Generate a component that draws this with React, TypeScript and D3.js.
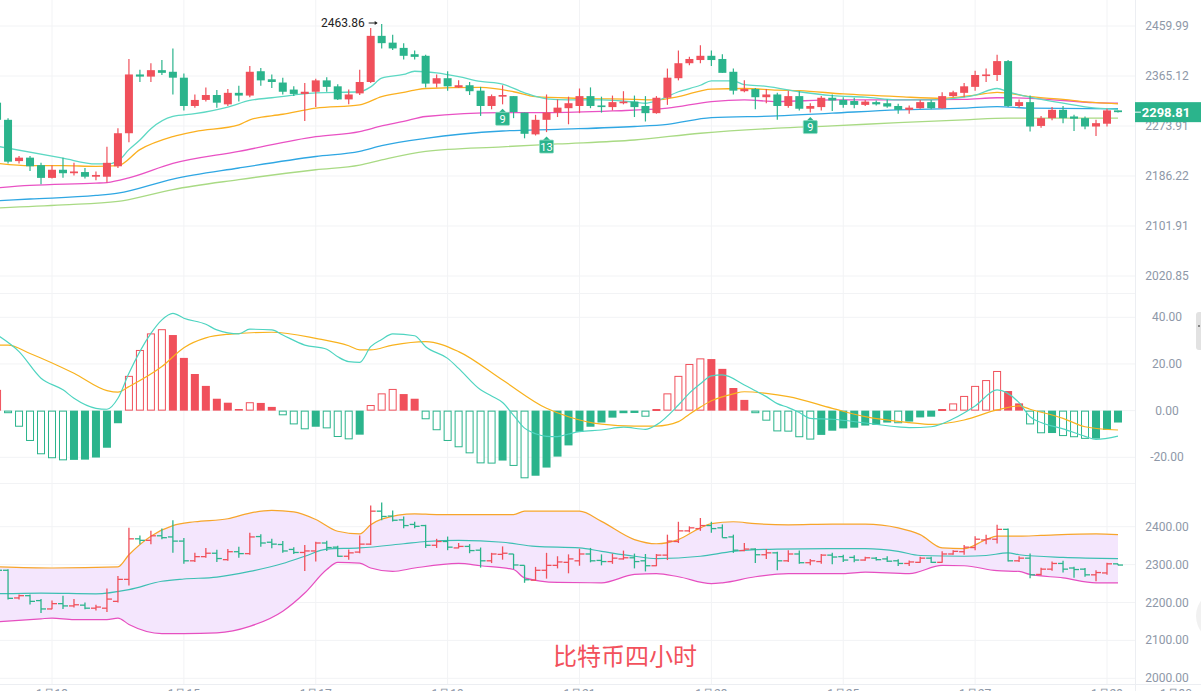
import React, { useEffect } from 'react';
import * as d3 from 'd3';

const W = 1201;
const H = 691;

// ---- candle data (index 0..102, 4h candles) ----
const opens = [2316,2285,2212,2218,2205,2183,2197,2191,2193,2185,2185,2203,2261,2368,2364,2376,2373,2362,2310,2321,2330,2313,2334,2329,2374,2359,2353,2340,2332,2336,2357,2346,2322,2333,2354,2441,2428,2418,2406,2403,2351,2361,2344,2348,2338,2310,2327,2328,2298,2259,2285,2298,2306,2310,2328,2311,2308,2315,2318,2310,2297,2325,2361,2389,2395,2403,2397,2373,2337,2341,2326,2331,2310,2328,2305,2308,2325,2321,2319,2312,2317,2315,2310,2303,2306,2317,2306,2328,2334,2345,2365,2367,2393,2310,2317,2274,2288,2303,2291,2288,2273,2278,2302];
const highs = [2322,2288,2221,2221,2209,2205,2218,2209,2200,2194,2237,2270,2397,2377,2389,2395,2417,2370,2331,2344,2339,2341,2347,2384,2380,2368,2362,2346,2352,2360,2363,2350,2340,2377,2456,2463.86,2443,2427,2413,2405,2368,2374,2357,2354,2345,2331,2348,2328,2298,2294,2331,2322,2327,2342,2344,2327,2329,2337,2329,2328,2328,2379,2413,2401,2423,2413,2406,2379,2357,2343,2341,2334,2338,2337,2315,2328,2331,2326,2325,2321,2320,2322,2314,2311,2321,2321,2335,2338,2352,2375,2379,2405,2395,2322,2329,2292,2308,2310,2294,2291,2285,2305,2302];
const lows = [2283,2208,2208,2195,2172,2182,2183,2187,2182,2179,2175,2200,2245,2354,2354,2367,2331,2302,2307,2318,2307,2310,2318,2326,2347,2343,2331,2328,2283,2308,2336,2321,2313,2330,2352,2417,2414,2396,2396,2344,2344,2338,2343,2330,2292,2304,2313,2288,2252,2257,2263,2290,2277,2297,2306,2298,2302,2313,2290,2282,2296,2312,2357,2385,2389,2384,2371,2331,2335,2304,2315,2285,2307,2302,2298,2302,2301,2307,2306,2310,2311,2307,2296,2296,2305,2304,2305,2326,2326,2338,2354,2356,2308,2307,2264,2271,2284,2279,2265,2268,2256,2273,2298];
const closes = [2285,2211,2218,2203,2183,2197,2191,2194,2185,2188,2209,2261,2368,2364,2376,2371,2362,2310,2321,2330,2316,2334,2329,2373,2357,2354,2336,2332,2336,2357,2345,2322,2331,2354,2441,2427,2417,2403,2401,2351,2361,2346,2348,2337,2310,2328,2330,2299,2260,2285,2298,2307,2315,2328,2310,2308,2317,2318,2308,2297,2325,2362,2389,2397,2403,2395,2371,2338,2341,2326,2331,2310,2328,2305,2310,2325,2320,2312,2312,2318,2313,2309,2303,2307,2317,2306,2328,2335,2346,2367,2368,2393,2310,2317,2273,2288,2303,2288,2287,2273,2279,2302,2298.81];

// ---- moving averages on main panel: [candle index, value] ----
const maCyan = [[0,2238],[6,2217],[9,2207],[10,2207],[11,2212],[12,2232],[13,2249],[14,2269],[16,2291],[18,2296],[21,2308],[23,2320],[25,2325],[27,2330],[29,2334],[33,2336],[34,2345],[35,2361],[37,2368],[38,2374],[40,2371],[42,2364],[44,2355],[46,2350],[48,2334],[50,2323],[52,2321],[55,2321],[58,2317],[59,2315],[60,2319],[62,2336],[64,2348],[65,2356],[67,2356],[68,2349],[70,2346],[73,2336],[76,2329],[79,2326],[82,2321],[85,2321],[88,2326],[89,2330],[91,2342],[92,2336],[94,2326],[97,2315],[100,2306],[102,2304]];
const maOrange = [[0,2208],[3,2204],[6,2204],[9,2203],[11,2204],[13,2232],[16,2255],[18,2264],[22,2276],[23,2285],[26,2295],[29,2306],[33,2312],[35,2327],[37,2335],[38,2339],[39,2342],[44,2344],[47,2336],[49,2327],[53,2324],[58,2322],[60,2321],[62,2327],[65,2341],[68,2342],[71,2339],[73,2338],[77,2332],[82,2327],[86,2324],[89,2330],[91,2335],[94,2327],[97,2322],[100,2316],[102,2314]];
const maPink = [[0,2166],[3,2170],[9,2174],[10,2175],[12,2183],[16,2208],[22,2229],[29,2255],[33,2264],[35,2274],[37,2282],[39,2291],[46,2298],[50,2298],[56,2301],[61,2306],[65,2318],[68,2321],[71,2318],[76,2321],[82,2321],[88,2322],[91,2325],[94,2324],[100,2316],[102,2315]];
const maBlue = [[0,2144],[3,2147],[9,2153],[11,2157],[16,2181],[22,2200],[29,2220],[33,2229],[35,2239],[39,2252],[46,2265],[51,2268],[58,2273],[61,2277],[65,2289],[71,2292],[76,2297],[82,2303],[88,2306],[91,2309],[94,2306],[102,2305]];
const maGreen = [[0,2132],[6,2137],[11,2143],[12,2146],[16,2163],[22,2180],[29,2197],[33,2205],[35,2214],[39,2229],[46,2237],[51,2242],[58,2249],[64,2261],[71,2270],[76,2274],[82,2280],[88,2285],[92,2288],[102,2288]];

// ---- MACD ----
const macdHist = [8.9,-1.1,-6.9,-13,-18.7,-20.4,-21.3,-21.1,-21.0,-20.1,-15.9,-5.4,14.9,26,33.1,34.9,32.4,22.6,15.7,10.6,5.1,3.4,0.7,3.6,3.3,1.6,-2.0,-5.9,-8,-6.9,-7.6,-11.3,-12.3,-10.3,2.4,7.4,9.3,7.1,5.1,-3.7,-8.4,-13,-15.7,-18.3,-22.6,-22.7,-21.4,-23.7,-29,-27.9,-24.4,-19.7,-14.9,-9.1,-6.9,-5.1,-3,-1.1,-1.0,-2.6,0.7,7.4,14.9,20,22.4,22.1,17.9,9.7,4.6,-1.1,-4.3,-8.9,-9.0,-11.4,-12.4,-10.4,-8.6,-7.6,-7.3,-6.4,-6.1,-5.1,-5.4,-4.7,-2.9,-2.6,0.7,3.1,6.3,10.6,13.1,17,8.4,3.1,-5.9,-9.7,-9.6,-10.9,-11.4,-12.1,-12,-8.3,-5.1];
const macdDif = [[0,32.5],[2,25.3],[4,13.9],[6,8.9],[7,5.3],[9,1.0],[10,0.6],[11,5.3],[12,16],[14,33.1],[15,38.9],[16,41.7],[17,39.6],[19,37],[20,34.6],[22,32.9],[23,34.9],[25,34.6],[26,32.4],[28,28.1],[30,26.3],[31,23.1],[32,21],[33,20.7],[34,27.4],[35,30.5],[36,32.9],[38,32.1],[39,27.4],[41,22.4],[42,18.1],[44,8.9],[45,6.3],[46,3.5],[47,-2],[48,-7.5],[49,-9.9],[50,-11],[51,-11.1],[52,-10],[53,-9],[55,-8.3],[57,-7.1],[59,-8],[60,-6.1],[62,2.4],[63,7.5],[64,11.5],[65,14.9],[66,15.3],[68,11],[69,8.5],[70,6],[71,3],[72,1.3],[73,-0.8],[74,-3.3],[76,-3.7],[79,-5.3],[82,-7],[83,-7.3],[85,-6.9],[87,-3.5],[89,2],[91,8.9],[93,3.4],[94,-2.6],[95,-5.1],[97,-7.8],[99,-11],[100,-12.3],[102,-10.9]];
const macdDea = [[0,28.1],[1,28.1],[3,24.5],[7,16],[10,8.6],[11,7.9],[12,10.3],[15,18.9],[17,27],[19,31.2],[21,32.7],[25,33.6],[29,31],[32,27.8],[33,26],[34,26],[36,28.1],[39,29.6],[42,25.3],[46,13.1],[50,1],[52,-2.6],[55,-5.8],[58,-6.6],[60,-6.6],[62,-4.7],[63,-1.5],[64,1.5],[65,4.2],[67,7.2],[68,8.1],[70,7.4],[72,6],[76,1],[79,-2.6],[83,-5.1],[85,-5.9],[88,-4],[91,0.3],[93,2],[94,0.6],[97,-3.3],[99,-6.9],[102,-8.3]];

// ---- Bollinger ----
const bollUpper = [[0,2294],[5,2291],[11,2294],[12,2326],[14,2375],[16,2403],[18,2413],[21,2421],[23,2436],[25,2443],[27,2439],[29,2419],[31,2388],[33,2381],[34,2405],[35,2420],[38,2434],[40,2432],[47,2432],[48,2441],[53,2441],[55,2414],[58,2366],[60,2355],[62,2366],[64,2397],[65,2408],[67,2413],[69,2408],[72,2405],[76,2407],[79,2407],[82,2397],[84,2379],[86,2344],[88,2342],[90,2366],[91,2375],[93,2375],[95,2377],[100,2381],[102,2379]];
const bollMid = [[0,2223],[4,2225],[9,2223],[12,2234],[15,2256],[17,2262],[20,2267],[23,2282],[26,2303],[28,2322],[30,2341],[33,2344],[37,2355],[39,2361],[42,2364],[46,2359],[49,2348],[53,2344],[55,2335],[58,2322],[60,2316],[64,2322],[67,2335],[71,2341],[76,2342],[79,2342],[82,2335],[84,2324],[88,2322],[90,2324],[92,2331],[93,2326],[97,2319],[102,2316]];
const bollLower = [[0,2149],[4,2157],[5,2159],[7,2155],[10,2155],[11,2159],[12,2142],[15,2118],[17,2118],[20,2120],[23,2137],[26,2177],[28,2225],[30,2287],[31,2306],[33,2304],[34,2291],[36,2282],[38,2291],[42,2303],[44,2297],[47,2287],[48,2265],[51,2253],[55,2252],[58,2274],[60,2276],[62,2268],[65,2250],[66,2252],[69,2268],[72,2276],[77,2276],[79,2280],[83,2276],[86,2298],[88,2297],[91,2284],[93,2282],[94,2274],[97,2265],[100,2252],[102,2252]];

// ---- ticks / labels ----
const mainTicks = [2459.99, 2365.12, 2273.91, 2186.22, 2101.91, 2020.85];
const macdTicks = [40, 20, 0, -20];
const bollTicks = [2400, 2300, 2200, 2100, 2000];
const dateTickIdx = [5, 17, 29, 41, 53, 65, 77, 89, 101];
const dateLabels = ['1月13', '1月15', '1月17', '1月19', '1月21', '1月23', '1月25', '1月27', '1月29'];
const markerIdx = [46, 50, 74];
const markerLabels = ['9', '13', '9'];
const highIdx = 35;
const lastPrice = 2298.81;
const title = '比特币四小时';

const RED = '#f0505b';
const GREEN = '#2bb48c';
const GRID = '#f2f3f5';
const AXIS_TXT = '#8e98a8';

export default function App() {
  useEffect(() => {
    document.body.style.margin = '0';
  }, []);

  const x = d3.scaleLinear().domain([5, 101]).range([52, 1107]);
  const yMain = d3.scaleLog().domain([2020.85, 2459.99]).range([276, 26]);
  const yMacd = d3.scaleLinear().domain([-20, 40]).range([457.3, 317.3]);
  const yBoll = d3.scaleLinear().domain([2000, 2400]).range([678.3, 526.7]);

  const mainLine = d3.line<number[]>().x(d => x(d[0])).y(d => yMain(d[1])).curve(d3.curveMonotoneX);
  const macdLine = d3.line<number[]>().x(d => x(d[0])).y(d => yMacd(d[1])).curve(d3.curveMonotoneX);
  const bollLine = d3.line<number[]>().x(d => x(d[0])).y(d => yBoll(d[1])).curve(d3.curveMonotoneX);

  const upperPath = bollLine(bollUpper) || '';
  const lowerRev = (bollLine([...bollLower].reverse()) || '').replace(/^M/, 'L');
  const bandPath = upperPath + lowerRev + 'Z';

  const candles = opens.map((o, i) => ({ i, o, h: highs[i], l: lows[i], c: closes[i] }));
  const zeroY = yMacd(0);

  const hx = x(highIdx);
  const hy = yMain(highs[highIdx]);

  return (
    <svg width={W} height={H} style={{ position: 'absolute', left: 0, top: 0, background: '#fff', display: 'block' }}
      fontFamily="Roboto, 'Noto Sans', sans-serif">
      <defs>
        <clipPath id="plot"><rect x={0} y={0} width={1135} height={H} /></clipPath>
      </defs>
      <rect x={0} y={0} width={W} height={H} fill="#fff" />

      {/* grid */}
      {dateTickIdx.map(i => (
        <line key={'vg' + i} x1={x(i)} x2={x(i)} y1={0} y2={684} stroke={GRID} strokeWidth={1} />
      ))}
      {mainTicks.map(t => (
        <line key={'mg' + t} x1={0} x2={1135} y1={yMain(t)} y2={yMain(t)} stroke={GRID} />
      ))}
      {macdTicks.map(t => (
        <line key={'dg' + t} x1={0} x2={1135} y1={yMacd(t)} y2={yMacd(t)} stroke={GRID} />
      ))}
      {bollTicks.map(t => (
        <line key={'bg' + t} x1={0} x2={1135} y1={yBoll(t)} y2={yBoll(t)} stroke={GRID} />
      ))}
      <line x1={0} x2={1135} y1={293.5} y2={293.5} stroke={GRID} />
      <line x1={0} x2={1135} y1={483.5} y2={483.5} stroke={GRID} />
      <line x1={0} x2={W} y1={684.5} y2={684.5} stroke="#eceef2" />
      <line x1={1135.5} x2={1135.5} y1={0} y2={H} stroke="#eceef2" />

      <g clipPath="url(#plot)">
        {/* Main panel MAs */}
        <path d={mainLine(maGreen) || ''} fill="none" stroke="#a9da84" strokeWidth={1.3} />
        <path d={mainLine(maBlue) || ''} fill="none" stroke="#2fa7e3" strokeWidth={1.3} />
        <path d={mainLine(maPink) || ''} fill="none" stroke="#e952c4" strokeWidth={1.3} />
        <path d={mainLine(maOrange) || ''} fill="none" stroke="#fbb020" strokeWidth={1.3} />
        <path d={mainLine(maCyan) || ''} fill="none" stroke="#5dd8c3" strokeWidth={1.3} />

        {/* candles */}
        {candles.map(d => {
          const up = d.c >= d.o;
          const col = up ? RED : GREEN;
          const cx = x(d.i);
          const yt = yMain(Math.max(d.o, d.c));
          const yb = yMain(Math.min(d.o, d.c));
          return (
            <g key={'c' + d.i}>
              <line x1={cx} x2={cx} y1={yMain(d.h)} y2={yMain(d.l)} stroke={col} strokeWidth={1.2} />
              <rect x={cx - 4} y={yt} width={8} height={Math.max(1.2, yb - yt)} fill={col} />
            </g>
          );
        })}

        {/* TD markers */}
        {markerIdx.map((i, k) => {
          const cx = x(i);
          const tip = yMain(lows[i]) + 4.5;
          const bw = 14;
          return (
            <g key={'mk' + i}>
              <path d={`M${cx},${tip} L${cx - 4},${tip + 4} L${cx + 4},${tip + 4} Z`} fill={GREEN} />
              <rect x={cx - bw / 2} y={tip + 3.5} width={bw} height={13} fill={GREEN} stroke="#8fdcc3" strokeWidth={0.8} rx={1} />
              <text x={cx} y={tip + 14} textAnchor="middle" fontSize={11} fill="#fff">{markerLabels[k]}</text>
            </g>
          );
        })}

        {/* high annotation */}
        <text x={hx - 17} y={hy + 3} textAnchor="end" fontSize={12} fill="#222">{highs[highIdx].toFixed(2)}</text>
        <line x1={hx - 13} x2={hx - 5} y1={hy - 1} y2={hy - 1} stroke="#222" strokeWidth={1} />
        <path d={`M${hx - 4},${hy - 1} L${hx - 7},${hy - 3} L${hx - 7},${hy + 1} Z`} fill="#222" />

        {/* MACD histogram */}
        {macdHist.map((v, i) => {
          const prev = i > 0 ? macdHist[i - 1] : 0;
          const hollow = v >= 0 ? v > prev : v < prev;
          const col = v >= 0 ? RED : GREEN;
          const cx = x(i);
          const yv = yMacd(v);
          const top = Math.min(zeroY, yv);
          const h = Math.max(1.5, Math.abs(yv - zeroY));
          return hollow ? (
            <rect key={'h' + i} x={cx - 3.5} y={top + 0.5} width={7} height={Math.max(1, h - 1)} fill="#fff" stroke={col} strokeWidth={1} />
          ) : (
            <rect key={'h' + i} x={cx - 4} y={top} width={8} height={h} fill={col} />
          );
        })}
        <path d={macdLine(macdDea) || ''} fill="none" stroke="#f8b21e" strokeWidth={1.2} />
        <path d={macdLine(macdDif) || ''} fill="none" stroke="#4ed4c0" strokeWidth={1.2} />

        {/* Bollinger */}
        <path d={bandPath} fill="#f4e6fd" stroke="none" />
        <path d={upperPath} fill="none" stroke="#f7a52b" strokeWidth={1.2} />
        <path d={bollLine(bollLower) || ''} fill="none" stroke="#e64fc0" strokeWidth={1.2} />
        <path d={bollLine(bollMid) || ''} fill="none" stroke="#3dbfb3" strokeWidth={1.2} />
        {candles.map(d => {
          const up = d.c >= d.o;
          const col = up ? RED : GREEN;
          const cx = x(d.i);
          return (
            <g key={'o' + d.i} stroke={col} strokeWidth={1.3}>
              <line x1={cx} x2={cx} y1={yBoll(d.h)} y2={yBoll(d.l)} />
              <line x1={cx - 5} x2={cx} y1={yBoll(d.o)} y2={yBoll(d.o)} />
              <line x1={cx} x2={cx + 5} y1={yBoll(d.c)} y2={yBoll(d.c)} />
            </g>
          );
        })}
      </g>

      {/* title */}
      <text x={625} y={665} textAnchor="middle" fontSize={24} fill="#f2515c"
        fontFamily="'Noto Sans CJK SC', sans-serif">{title}</text>

      {/* axis labels */}
      {mainTicks.map(t => (
        <text key={'ml' + t} x={1167} y={yMain(t) + 4} textAnchor="middle" fontSize={12} fill={AXIS_TXT}>{t.toFixed(2)}</text>
      ))}
      {macdTicks.map(t => (
        <text key={'dl' + t} x={1167} y={yMacd(t) + 4} textAnchor="middle" fontSize={12} fill={AXIS_TXT}>{t.toFixed(2)}</text>
      ))}
      {bollTicks.map(t => (
        <text key={'bl' + t} x={1167} y={yBoll(t) + 4} textAnchor="middle" fontSize={12} fill={AXIS_TXT}>{t.toFixed(2)}</text>
      ))}

      {/* last price tag */}
      <rect x={1135} y={yMain(lastPrice) - 10} width={66} height={20} fill={GREEN} />
      <line x1={1135} x2={1141} y1={yMain(lastPrice)} y2={yMain(lastPrice)} stroke="#fff" strokeWidth={1} />
      <text x={1166} y={yMain(lastPrice) + 4.5} textAnchor="middle" fontSize={13} fontWeight="bold" fill="#fff">{lastPrice.toFixed(2)}</text>

      {/* date labels (mostly cut off at bottom) */}
      {dateTickIdx.map((i, k) => (
        <text key={'dt' + i} x={x(i)} y={698} textAnchor="middle" fontSize={12} fill={AXIS_TXT}>{dateLabels[k]}</text>
      ))}
      <text x={1176} y={698} textAnchor="middle" fontSize={12} fill={AXIS_TXT}>1月30</text>

      {/* right-edge widgets */}
      <rect x={1196} y={312} width={10} height={38} rx={3} fill="#e2e2e2" />
      <circle cx={1199} cy={326} r={1} fill="#666" />
      <circle cx={1222} cy={616} r={26} fill="#f1f1f1" />
    </svg>
  );
}
